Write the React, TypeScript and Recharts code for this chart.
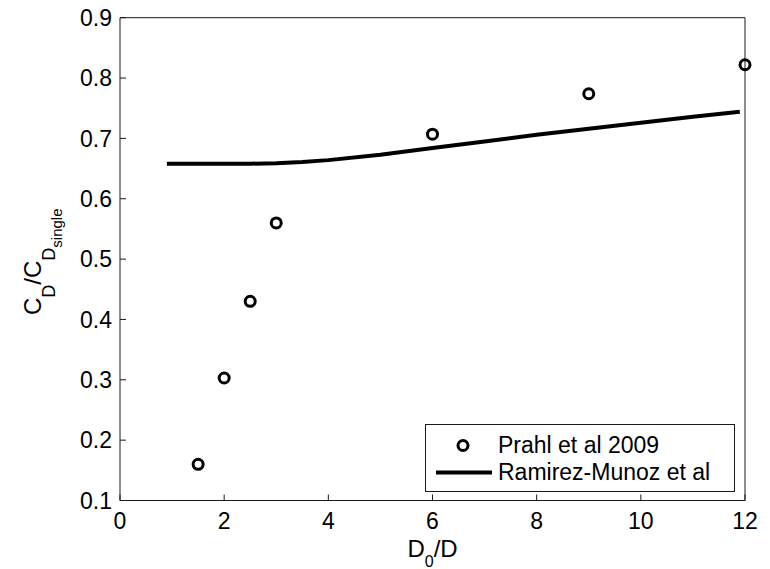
import React from 'react';
import { ComposedChart, Line, Scatter, XAxis, YAxis, Legend } from 'recharts';

// Series names
const PRAHL_NAME = 'Prahl et al 2009';
const RAMIREZ_NAME = 'Ramirez-Munoz et al';
const SERIES_ORDER = [PRAHL_NAME, RAMIREZ_NAME];

// Prahl et al 2009: measured drag ratio vs. spacing
const prahlSpacing = [1.5, 2, 2.5, 3, 6, 9, 12];
const prahlDrag = [0.16, 0.303, 0.43, 0.56, 0.707, 0.774, 0.822];

// Ramirez-Munoz et al correlation curve
const ramirezSpacing = [0.9, 1.5, 2, 2.5, 3, 3.5, 4, 5, 6, 7, 8, 9, 10, 11, 11.9];
const ramirezDrag = [0.658, 0.658, 0.658, 0.658, 0.659, 0.661, 0.664, 0.673, 0.684, 0.695, 0.706, 0.716, 0.726, 0.736, 0.744];

// Axis ticks
const xTicks = [0, 2, 4, 6, 8, 10, 12];
const yTicks = [0.1, 0.2, 0.3, 0.4, 0.5, 0.6, 0.7, 0.8, 0.9];

const prahlData = prahlSpacing.map((x, i) => ({ x, y: prahlDrag[i] }));
const ramirezData = ramirezSpacing.map((x, i) => ({ x, y: ramirezDrag[i] }));

const FONT = '"Liberation Sans", Arial, Helvetica, sans-serif';
const INK = '#000';
const AXIS = '#1a1a1a';

const tickStyle = { fill: INK, fontSize: 23, fontFamily: FONT };

const OpenCircle = (props: any) => {
  const { cx, cy } = props;
  if (cx == null || cy == null) return null;
  return <circle cx={cx} cy={cy} r={5} fill="none" stroke={INK} strokeWidth={3} />;
};

const XLabel = (props: any) => {
  const vb = props.viewBox || {};
  const cx = vb.x + vb.width / 2;
  return (
    <text x={cx} y={557} textAnchor="middle" fontFamily={FONT} fontSize={24} fill={INK}>
      <tspan>D</tspan>
      <tspan fontSize={16} dy={10}>0</tspan>
      <tspan dy={-10}>/D</tspan>
    </text>
  );
};

const YLabel = () => (
  <text
    x={0}
    y={0}
    transform="translate(41, 315) rotate(-90)"
    textAnchor="start"
    fontFamily={FONT}
    fontSize={24}
    fill={INK}
  >
    <tspan>C</tspan>
    <tspan fontSize={18} dy={14}>D</tspan>
    <tspan dy={-14}>/C</tspan>
    <tspan fontSize={18} dy={14}>D</tspan>
    <tspan fontSize={15} dy={7}>single</tspan>
  </text>
);

const LegendBox = (props: any) => {
  const entries = [...(props.payload || [])].sort(
    (a: any, b: any) => SERIES_ORDER.indexOf(a.value) - SERIES_ORDER.indexOf(b.value)
  );
  return (
    <div
      style={{
        boxSizing: 'border-box',
        width: 310,
        height: 68,
        border: `1px solid ${AXIS}`,
        background: '#fff',
        paddingTop: 7,
        fontFamily: FONT,
        fontSize: 23,
        color: INK,
      }}
    >
      {entries.map((e: any) => (
        <div key={e.value} style={{ display: 'flex', alignItems: 'center', height: 27, lineHeight: '27px' }}>
          <svg width={72} height={27} style={{ flex: 'none', display: 'block' }}>
            {e.type === 'line' ? (
              <line x1={10} x2={66} y1={13.5} y2={13.5} stroke={INK} strokeWidth={4} />
            ) : (
              <circle cx={37} cy={13.5} r={5} fill="none" stroke={INK} strokeWidth={3} />
            )}
          </svg>
          <span style={{ whiteSpace: 'nowrap' }}>{e.value}</span>
        </div>
      ))}
    </div>
  );
};

export default function App() {
  return (
    <div style={{ position: 'absolute', left: 0, top: 0, width: 770, height: 569, background: '#fff' }}>
      <ComposedChart width={770} height={569} margin={{ top: 16.7, right: 24, left: 0, bottom: 0 }}>
        <XAxis
          xAxisId="bottom"
          dataKey="x"
          type="number"
          domain={[0, 12]}
          ticks={xTicks}
          interval={0}
          height={68.5}
          stroke={AXIS}
          tickSize={-6}
          tickMargin={18.5}
          tick={tickStyle}
          label={<XLabel />}
        />
        <XAxis
          xAxisId="top"
          orientation="top"
          dataKey="x"
          type="number"
          domain={[0, 12]}
          ticks={xTicks}
          interval={0}
          height={1}
          stroke={AXIS}
          tickSize={-6}
          tick={false}
        />
        <YAxis
          yAxisId="left"
          dataKey="y"
          type="number"
          domain={[0.1, 0.9]}
          ticks={yTicks}
          interval={0}
          width={120}
          stroke={AXIS}
          tickSize={-6}
          tickMargin={14}
          tick={tickStyle}
          label={<YLabel />}
        />
        <YAxis
          yAxisId="right"
          orientation="right"
          dataKey="y"
          type="number"
          domain={[0.1, 0.9]}
          ticks={yTicks}
          interval={0}
          width={1}
          stroke={AXIS}
          tickSize={-6}
          tick={false}
        />
        <Line
          xAxisId="bottom"
          yAxisId="left"
          name={RAMIREZ_NAME}
          data={ramirezData}
          dataKey="y"
          type="linear"
          stroke={INK}
          strokeWidth={4}
          dot={false}
          activeDot={false}
          legendType="line"
          isAnimationActive={false}
        />
        <Scatter
          xAxisId="bottom"
          yAxisId="left"
          name={PRAHL_NAME}
          data={prahlData}
          dataKey="y"
          fill={INK}
          shape={<OpenCircle />}
          legendType="circle"
          isAnimationActive={false}
        />
        <Legend
          layout="vertical"
          align="center"
          verticalAlign="middle"
          wrapperStyle={{ left: 425, top: 424, width: 310, height: 68 }}
          content={<LegendBox />}
        />
      </ComposedChart>
    </div>
  );
}
